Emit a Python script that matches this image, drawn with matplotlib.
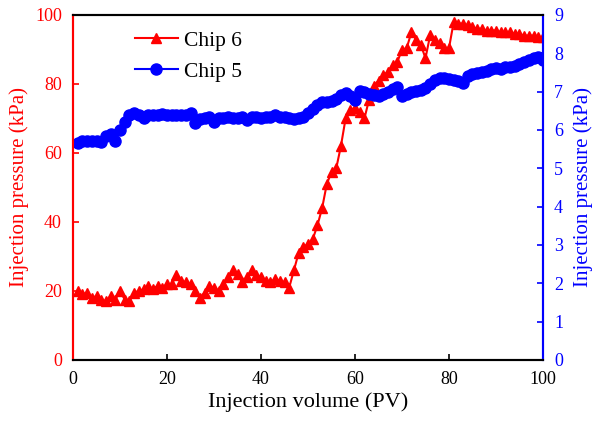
import matplotlib
matplotlib.use("Agg")
import matplotlib.pyplot as plt

plt.rcParams['font.family'] = ['Liberation Serif', 'DejaVu Serif']

x = [1, 2, 3, 4, 5, 6, 7, 8, 9, 10, 11, 12, 13, 14, 15, 16, 17, 18, 19, 20,
     21, 22, 23, 24, 25, 26, 27, 28, 29, 30, 31, 32, 33, 34, 35, 36, 37, 38, 39, 40,
     41, 42, 43, 44, 45, 46, 47, 48, 49, 50, 51, 52, 53, 54, 55, 56, 57, 58, 59, 60,
     61, 62, 63, 64, 65, 66, 67, 68, 69, 70, 71, 72, 73, 74, 75, 76, 77, 78, 79, 80,
     81, 82, 83, 84, 85, 86, 87, 88, 89, 90, 91, 92, 93, 94, 95, 96, 97, 98, 99, 100]

chip6 = [20, 19, 19.5, 18, 18.5, 17.5, 17, 18.5, 17.5, 20,
         17.5, 17, 19.5, 20, 20.5, 21.5, 20.5, 21.5, 21, 22,
         22, 24.5, 23, 22.5, 22, 20, 18, 19.5, 21.5, 21,
         20, 22, 24, 26, 25, 22.5, 24, 26, 24.5, 24,
         23, 22.5, 23.5, 23, 22.5, 21, 26, 31, 32.8, 33.5,
         35, 39, 44, 51, 54.5, 55.5, 62, 70, 72.5, 73,
         72, 70, 75.5, 79.5, 81, 82.5, 83.5, 85.5, 86.4, 89.9,
         90.4, 95, 92.8, 91.3, 87.5, 94.2, 92.8, 91.9, 90.4, 90.4,
         98, 97.5, 97.5, 97, 96.5, 96, 96, 95.5, 95.5, 95.5,
         95, 95, 95, 94.5, 94.5, 94, 94, 94, 93.5, 93.5]

chip5 = [5.65, 5.7, 5.72, 5.72, 5.7, 5.68, 5.85, 5.9, 5.7, 6.0,
         6.2, 6.38, 6.45, 6.4, 6.3, 6.4, 6.38, 6.4, 6.42, 6.4,
         6.4, 6.38, 6.38, 6.4, 6.45, 6.18, 6.28, 6.3, 6.35, 6.2,
         6.32, 6.3, 6.35, 6.3, 6.3, 6.35, 6.25, 6.35, 6.35, 6.32,
         6.35, 6.33, 6.38, 6.35, 6.35, 6.3, 6.28, 6.32, 6.35, 6.45,
         6.55, 6.65, 6.72, 6.72, 6.75, 6.8, 6.9, 6.97, 6.88, 6.78,
         7.02, 7.0, 6.95, 6.9, 6.88, 6.95, 7.0, 7.08, 7.12, 6.88,
         6.95, 7.0, 7.02, 7.05, 7.1, 7.2, 7.3, 7.35, 7.36, 7.32,
         7.3, 7.28, 7.22, 7.42, 7.45, 7.48, 7.52, 7.55, 7.58, 7.62,
         7.6, 7.65, 7.65, 7.68, 7.72, 7.78, 7.82, 7.88, 7.9, 7.83]

xticks = [0, 20, 40, 60, 80, 100]
lticks = [0, 20, 40, 60, 80, 100]
rticks = [0, 1, 2, 3, 4, 5, 6, 7, 8, 9]

fig = plt.figure(figsize=(5.99, 4.22), dpi=100)
ax1 = fig.add_axes([0.1219, 0.147, 0.7846, 0.8175])
ax2 = ax1.twinx()

l1, = ax1.plot(x, chip6, color='#ff0000', marker='^', markersize=7.5, lw=1.5, label='Chip 6')
l2, = ax2.plot(x, chip5, color='#0000ff', marker='o', markersize=8, lw=1.5, label='Chip 5')

ax1.set_xlim(0, 100)
ax1.set_ylim(0, 100)
ax2.set_ylim(0, 9)
ax1.set_xticks(xticks)
ax1.set_yticks(lticks)
ax2.set_yticks(rticks)

ax1.tick_params(axis='x', direction='in', length=4, width=1.2, labelsize=13, colors='black', pad=8)
ax1.tick_params(axis='y', direction='in', length=4, width=1.2, labelsize=13, colors='#ff0000', pad=8)
ax2.tick_params(axis='y', direction='in', length=4, width=1.2, labelsize=13, colors='#0000ff', pad=8)

for ax in (ax1, ax2):
    ax.spines['left'].set_color('#ff0000')
    ax.spines['right'].set_color('#0000ff')
    ax.spines['bottom'].set_color('black')
    ax.spines['top'].set_color('black')
    for s in ax.spines.values():
        s.set_linewidth(1.5)

ax1.set_xlabel('Injection volume (PV)', fontsize=16, labelpad=3)
ax1.set_ylabel('Injection pressure (kPa)', fontsize=15, color='#ff0000', labelpad=4)
ax2.set_ylabel('Injection pressure (kPa)', fontsize=15, color='#0000ff', labelpad=7)

ax1.legend(handles=[l1, l2], loc='upper left', bbox_to_anchor=(0.09, 1.01), frameon=False,
           fontsize=15.5, handlelength=2.0, handletextpad=0.3, labelspacing=0.5)

fig.savefig('out.png', dpi=100)
